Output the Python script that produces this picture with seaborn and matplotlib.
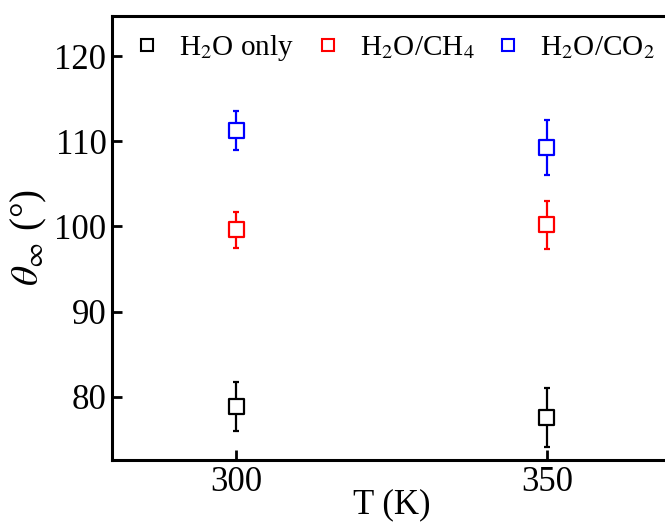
import numpy as np
import pandas as pd
import matplotlib
matplotlib.use("Agg")
import matplotlib.pyplot as plt
from matplotlib.lines import Line2D
import seaborn as sns

# data
temps = [300, 350]
systems = ["H$_2$O only", "H$_2$O/CH$_4$", "H$_2$O/CO$_2$"]
colors = ["black", "red", "blue"]
theta_h2o = [78.85, 77.6]
err_h2o = [2.9, 3.45]
theta_ch4 = [99.6, 100.2]
err_ch4 = [2.1, 2.8]
theta_co2 = [111.25, 109.25]
err_co2 = [2.3, 3.25]

df = pd.DataFrame({
    "T": temps * 3,
    "theta": theta_h2o + theta_ch4 + theta_co2,
    "err": err_h2o + err_ch4 + err_co2,
    "system": [s for s in systems for _ in temps],
})

sns.set_theme(style="ticks")
plt.rcParams["font.family"] = ["Liberation Serif", "DejaVu Serif"]
plt.rcParams["mathtext.fontset"] = "stix"
for key in ["text.color", "axes.labelcolor", "xtick.color", "ytick.color",
            "axes.edgecolor"]:
    plt.rcParams[key] = "black"

fig = plt.figure(figsize=(6.65, 5.23), dpi=100)
ax = fig.add_axes([0.1684, 0.1205, 0.8406, 0.849])

palette = dict(zip(systems, colors))
for s in systems:
    sub = df[df["system"] == s]
    ax.errorbar(sub["T"], sub["theta"], yerr=sub["err"], fmt="none",
                ecolor=palette[s], elinewidth=1.6, capsize=2.5, capthick=1.6,
                zorder=2)
sns.scatterplot(data=df, x="T", y="theta", hue="system", palette=palette,
                marker="s", s=120, linewidth=1.6, legend=False, ax=ax,
                zorder=3)
# open squares: coloured edges, white fill
pts = ax.collections[-1]
pts.set_edgecolor([palette[s] for s in df["system"]])
pts.set_facecolor("white")

ax.set_xlim(280, 370)
ax.set_ylim(72.6, 124.7)
ax.set_xticks(temps)
ax.set_yticks([80, 90, 100, 110, 120])
ax.tick_params(direction="in", length=7, width=2, labelsize=25, pad=4)
for sp in ax.spines.values():
    sp.set_linewidth(2.2)

ax.set_xlabel("T (K)", fontsize=25, labelpad=-7)
ax.set_ylabel(r"$\theta_\infty$ (°)", fontsize=28, labelpad=4)

handles = [Line2D([], [], ls="none", marker="s", ms=8, mfc="white",
                  mec=c, mew=1.5) for c in colors]
ax.legend(handles, systems, ncol=3, frameon=False, fontsize=21,
          loc="upper left", bbox_to_anchor=(0.0, 1.0), handletextpad=0.5,
          columnspacing=0.55, handlelength=1.2, borderaxespad=0.2)

fig.savefig("out.png", dpi=100)
